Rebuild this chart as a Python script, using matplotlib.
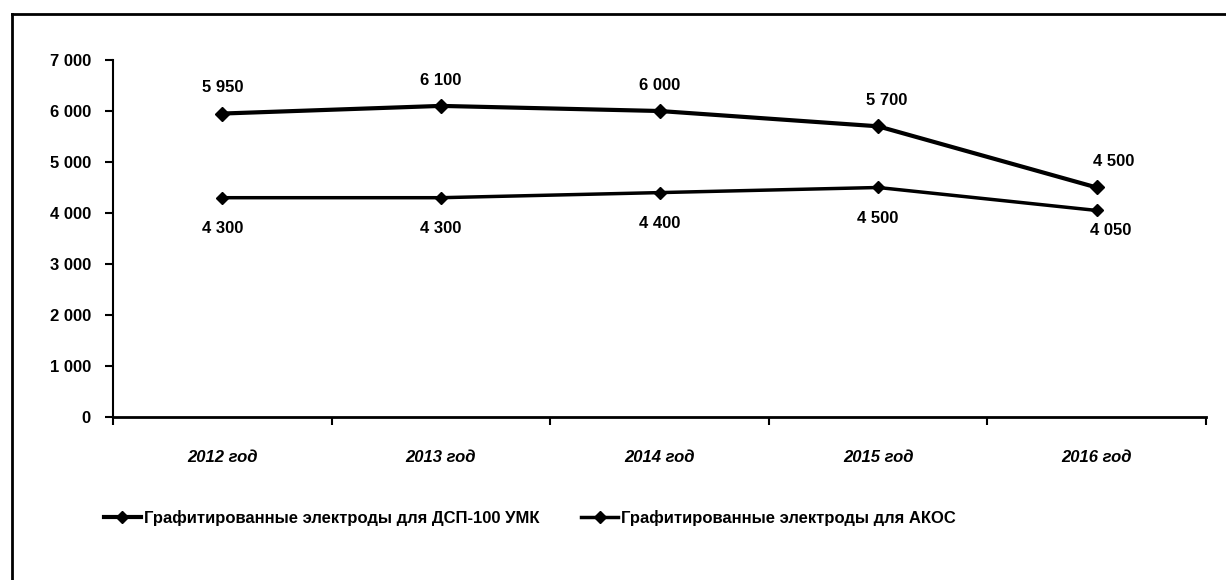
import matplotlib
matplotlib.use("Agg")
import matplotlib.pyplot as plt
from matplotlib.ticker import FuncFormatter, MultipleLocator
from matplotlib.lines import Line2D

categories = ["2012 год", "2013 год", "2014 год", "2015 год", "2016 год"]
series_dsp = [5950, 6100, 6000, 5700, 4500]
series_akos = [4300, 4300, 4400, 4500, 4050]
name_dsp = "Графитированные электроды для ДСП-100 УМК"
name_akos = "Графитированные электроды для АКОС"

plt.rcParams['font.family'] = ['Liberation Sans', 'DejaVu Sans']
plt.rcParams['font.weight'] = 'bold'

fig = plt.figure(figsize=(12.26, 5.80), dpi=100)
ax = fig.add_axes([113/1226, 1-417/580, (1206-113)/1226, (417-60)/580])

x = list(range(len(categories)))
ax.plot(x, series_dsp, color='black', lw=3, marker='D', ms=7, zorder=3)
ax.plot(x, series_akos, color='black', lw=2.5, marker='D', ms=6, zorder=3)

def fmt(v):
    return f"{int(v):,}".replace(",", " ")

up_dx = [0, 0, 0, 6, 12]
dn_dx = [0, 0, 0, 0, 10]
dn_dy = [-17, -17, -17, -17, -9]
for i, v in enumerate(series_dsp):
    ax.annotate(fmt(v), (i, v), xytext=(up_dx[i], 13), textcoords='offset points',
                ha='center', va='bottom', fontsize=12, fontweight='bold')
for i, v in enumerate(series_akos):
    ax.annotate(fmt(v), (i, v), xytext=(dn_dx[i], dn_dy[i]), textcoords='offset points',
                ha='center', va='top', fontsize=12, fontweight='bold')

ax.set_xlim(-0.5, len(categories) - 0.5)
ax.set_ylim(0, 7000)
ax.yaxis.set_major_locator(MultipleLocator(1000))
ax.yaxis.set_major_formatter(FuncFormatter(lambda v, p: fmt(v)))
ax.set_xticks([i - 0.5 for i in range(len(categories) + 1)], minor=False)
ax.set_xticklabels([])
ax.set_xticks(x, minor=True)
ax.set_xticklabels(categories, minor=True, fontsize=12, fontweight='bold', style='italic')
ax.tick_params(axis='x', which='minor', length=0, pad=24)
ax.tick_params(axis='x', which='major', length=6, width=1.5, direction='out')
ax.tick_params(axis='y', length=6, width=1.5, labelsize=12, pad=10)
for lab in ax.get_yticklabels():
    lab.set_fontweight('bold')
ax.spines['top'].set_visible(False)
ax.spines['right'].set_visible(False)
ax.spines['left'].set_linewidth(1.5)
ax.spines['bottom'].set_linewidth(2)

handles = [Line2D([], [], color='black', lw=3, marker='D', ms=6),
           Line2D([], [], color='black', lw=2.5, marker='D', ms=6)]
fig.legend(handles, [name_dsp, name_akos], loc='center', bbox_to_anchor=(530/1226, 1-518/580),
           ncol=2, frameon=False, prop={'size': 12, 'weight': 'bold'},
           handlelength=2.2, handletextpad=0.2, columnspacing=2.5)

# border frame
fig.add_artist(Line2D([12/1226, 1], [1-14/580, 1-14/580], color='black', lw=2, transform=fig.transFigure))
fig.add_artist(Line2D([12/1226, 12/1226], [0, 1-14/580], color='black', lw=2, transform=fig.transFigure))

fig.savefig("out.png", dpi=100)
